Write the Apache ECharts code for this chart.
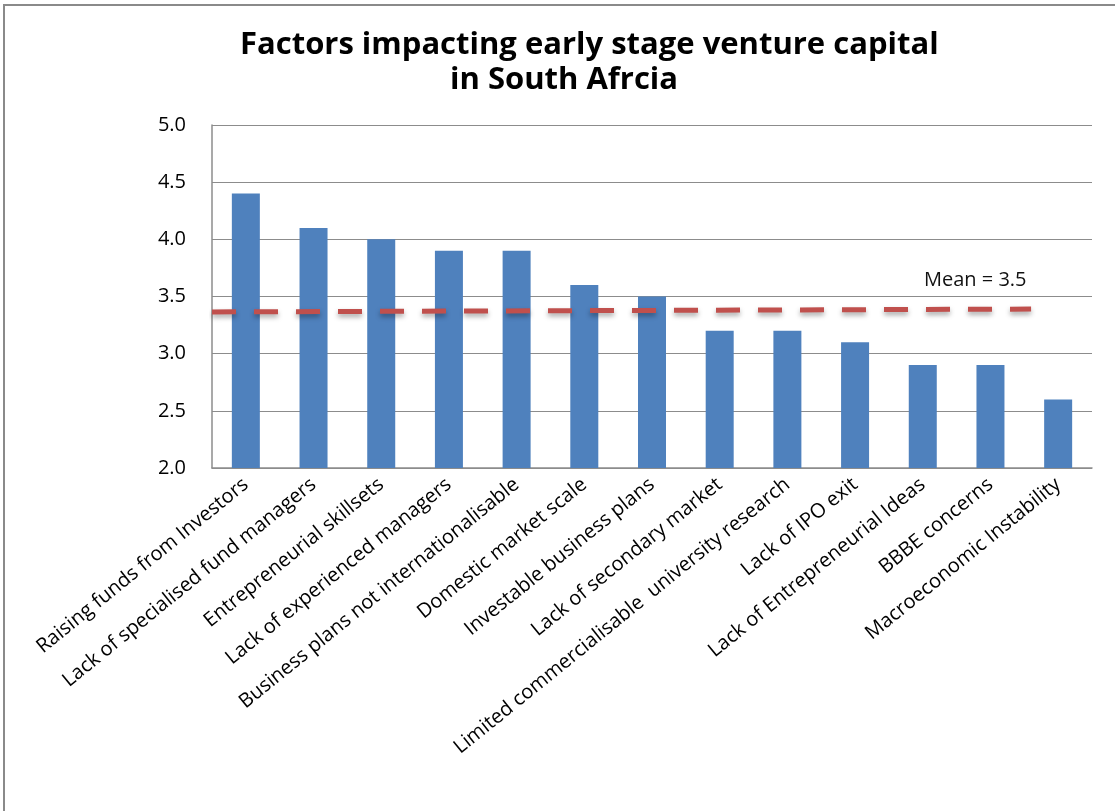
<!DOCTYPE html>
<html>
<head>
<meta charset="utf-8">
<script src="https://cdn.jsdelivr.net/npm/echarts@6/dist/echarts.min.js"></script>
<style>
html,body{margin:0;padding:0;background:#fff;}
#chart{width:1115px;height:811px;}
</style>
</head>
<body>
<div id="chart"></div>
<script>
const categories = [
  "Raising funds from Investors",
  "Lack of specialised fund managers",
  "Entrepreneurial skillsets",
  "Lack of experienced managers",
  "Business plans not internationalisable",
  "Domestic market scale",
  "Investable business plans",
  "Lack of secondary market",
  "Limited commercialisable  university research",
  "Lack of IPO exit",
  "Lack of Entrepreneurial Ideas",
  "BBBE concerns",
  "Macroeconomic Instability"
];
const scores = [4.4, 4.1, 4.0, 3.9, 3.9, 3.6, 3.5, 3.2, 3.2, 3.1, 2.9, 2.9, 2.6];
const meanLine = [[0, 3.365], [12.1, 3.39]];
const meanLabel = "Mean = 3.5";
const titleLines = ["Factors impacting early stage venture capital", "in South Afrcia"];
const yTicks = { min: 2.0, max: 5.0, step: 0.5 };

const chart = echarts.init(document.getElementById('chart'));
const font = "'Open Sans', 'Noto Sans', sans-serif";
const titleStyle = { fontFamily: font, fontWeight: 'bold', fontSize: 31, color: '#000' };
chart.setOption({
  animation: false,
  backgroundColor: '#fff',
  title: [
    { text: titleLines[0], left: 240, top: 30, padding: 0, textStyle: titleStyle },
    { text: titleLines[1], left: 450, top: 65, padding: 0, textStyle: titleStyle }
  ],
  graphic: [
    { type: 'polyline', shape: { points: [[4, 811], [4, 5], [1115, 5]] }, style: { stroke: '#8a8a8a', lineWidth: 2, fill: null } },
    { type: 'text', left: 924, top: 270, style: { text: meanLabel, fontFamily: font, fontSize: 20, fill: '#111' } }
  ],
  grid: { left: 212, right: 23, top: 125, bottom: 343, containLabel: false },
  xAxis: [
    {
      type: 'category',
      data: categories,
      axisLine: { lineStyle: { color: '#8c8c8c', width: 1.5 } },
      axisTick: { show: false },
      axisLabel: { rotate: 39, margin: 14, interval: 0, fontFamily: font, fontSize: 20, color: '#000' }
    },
    { type: 'value', min: 0, max: 13, show: false }
  ],
  yAxis: {
    type: 'value',
    min: yTicks.min, max: yTicks.max, interval: yTicks.step,
    axisLine: { show: true, lineStyle: { color: '#8c8c8c', width: 1.5 } },
    axisTick: { show: false },
    splitLine: { lineStyle: { color: '#8c8c8c', width: 1.2 } },
    axisLabel: { margin: 26, fontFamily: font, fontSize: 20, color: '#000', formatter: v => v.toFixed(1) }
  },
  series: [
    {
      type: 'bar',
      data: scores,
      barWidth: 28,
      itemStyle: { color: '#4f81bd' }
    },
    {
      type: 'line',
      xAxisIndex: 1,
      data: meanLine,
      symbol: 'none',
      z: 5,
      lineStyle: {
        color: '#c0504d', width: 5, type: [24, 18],
        shadowColor: 'rgba(0,0,0,0.35)', shadowBlur: 5, shadowOffsetY: 3
      }
    }
  ]
});
</script>
</body>
</html>
